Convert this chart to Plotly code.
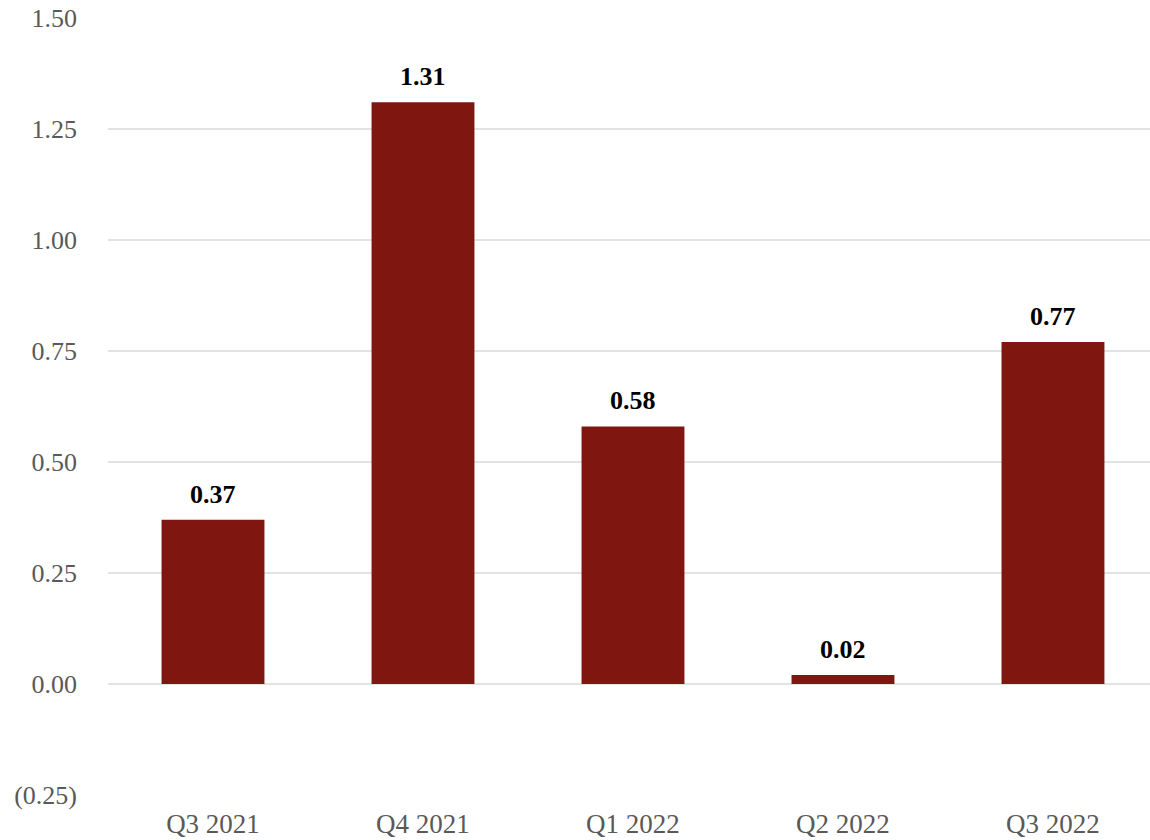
import plotly.graph_objects as go

quarters = ["Q3 2021", "Q4 2021", "Q1 2022", "Q2 2022", "Q3 2022"]
values = [0.37, 1.31, 0.58, 0.02, 0.77]
tick_vals = [-0.25, 0.0, 0.25, 0.50, 0.75, 1.00, 1.25, 1.50]
tick_text = ["(0.25)", "0.00", "0.25", "0.50", "0.75", "1.00", "1.25", "1.50"]

bar_color = "#7F160F"
serif = "Liberation Serif, Times New Roman, serif"

fig = go.Figure(
    go.Bar(
        x=list(range(len(quarters))),
        y=values,
        width=0.49,
        marker=dict(color=bar_color, line=dict(width=0)),
        hoverinfo="skip",
    )
)

for i, v in enumerate(values):
    fig.add_annotation(
        x=i, y=v, text=f"<b>{v:.2f}</b>", showarrow=False,
        yanchor="bottom", yshift=9,
        font=dict(family=serif, size=26, color="#000000"),
    )

fig.update_layout(
    width=1150, height=840,
    margin=dict(l=108, r=0, t=18, b=45),
    paper_bgcolor="white", plot_bgcolor="white",
    showlegend=False,
    font=dict(family=serif, size=26, color="#595959"),
)
fig.update_xaxes(
    range=[-0.5, 4.462],
    tickmode="array", tickvals=list(range(len(quarters))), ticktext=quarters,
    showgrid=False, zeroline=False, showline=False,
    ticks="", ticklabelstandoff=10,
    tickfont=dict(family=serif, size=27, color="#595959"),
)
fig.update_yaxes(
    range=[-0.25, 1.5],
    tickmode="array", tickvals=tick_vals, ticktext=tick_text,
    showgrid=True, gridcolor="#E3E3E3", gridwidth=2,
    zeroline=True, zerolinecolor="#E3E3E3", zerolinewidth=2,
    showline=False, ticks="", ticklabelstandoff=30,
    tickfont=dict(family=serif, size=26, color="#595959"),
)

fig.write_html("out.html")
